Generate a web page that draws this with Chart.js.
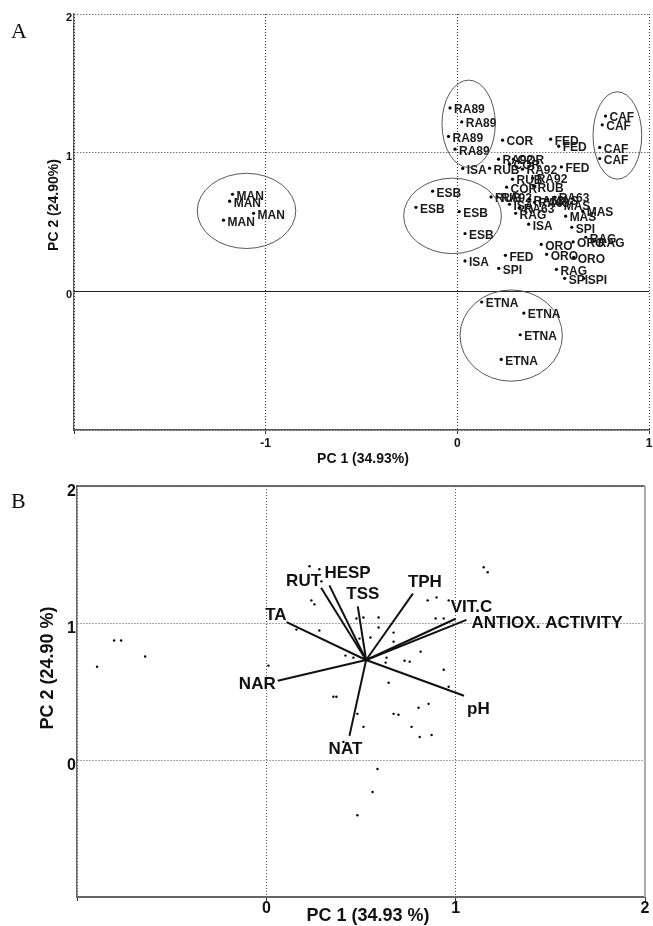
<!DOCTYPE html>
<html>
<head>
<meta charset="utf-8">
<script src="https://cdn.jsdelivr.net/npm/chart.js@4.4.0/dist/chart.umd.min.js"></script>
<style>
  body { margin: 0; background: #fff; width: 653px; height: 926px; position: relative; overflow: hidden; }
  .panel { position: absolute; left: 0; width: 653px; }
  #boxA { top: 0; height: 470px; }
  #boxB { top: 470px; height: 456px; }
</style>
</head>
<body>
<div class="panel" id="boxA"><canvas id="chartA"></canvas></div>
<div class="panel" id="boxB"><canvas id="chartB"></canvas></div>
<script>
// ---- panel A: sample scores ----
var sampleNames = ['MAN','MAN','MAN','MAN','RA89','RA89','RA89','RA89','CAF','CAF','CAF','CAF',
  'ESB','ESB','ESB','ESB','ETNA','ETNA','ETNA','ETNA','FED','FED','FED','FED',
  'ISA','ISA','ISA','ISA','COR','COR','COR','COR','RA92','RA92','RA92','RA92',
  'RUB','RUB','RUB','RUB','RA63','RA63','RA63','RA63','MAS','MAS','MAS','MAS',
  'RAG','RAG','RAG','RAG','ORO','ORO','ORO','ORO','SPI','SPI','SPI','SPI'];
var pc1A = [-1.173,-1.188,-1.063,-1.220, -0.038,0.023,-0.046,-0.012, 0.773,0.756,0.743,0.743,
  -0.129,-0.216,0.010,0.040, 0.127,0.347,0.328,0.229, 0.487,0.529,0.543,0.251,
  0.028,0.040,0.372,0.272, 0.236,0.293,0.257,0.272, 0.215,0.340,0.393,0.208,
  0.168,0.288,0.398,0.176, 0.508,0.325,0.403,0.377, 0.471,0.654,0.565,0.534,
  0.304,0.670,0.712,0.517, 0.438,0.604,0.466,0.607, 0.597,0.560,0.660,0.216];
var pc2A = [0.700,0.650,0.563,0.513, 1.323,1.222,1.117,1.025, 1.264,1.201,1.038,0.958,
  0.722,0.606,0.575,0.417, -0.077,-0.157,-0.313,-0.491, 1.097,1.047,0.897,0.260,
  0.886,0.219,0.484,0.628, 1.090,0.953,0.751,0.917, 0.953,0.881,0.816,0.681,
  0.888,0.809,0.758,0.681, 0.679,0.606,0.643,0.664, 0.664,0.578,0.542,0.628,
  0.563,0.390,0.361,0.159, 0.339,0.356,0.267,0.245, 0.462,0.094,0.094,0.166];

// group ellipses (MAN, RA89, ESB, CAF, ETNA) in PC units
var ellipseCx = [-1.100, 0.059, -0.025, 0.835, 0.281];
var ellipseCy = [0.580, 1.208, 0.544, 1.124, -0.319];
var ellipseRx = [0.257, 0.139, 0.255, 0.127, 0.267];
var ellipseRy = [0.271, 0.315, 0.272, 0.315, 0.329];

// ---- panel B: biplot ----
var pc1B = [-0.894,-0.804,-0.767,-0.640,0.011,0.228,0.280,0.291,0.238,0.254,0.159,0.280,0.354,0.370,
  0.418,0.460,0.476,0.513,0.593,0.593,0.550,0.492,0.672,0.672,0.635,0.630,0.730,0.757,0.815,0.852,
  0.899,0.963,0.894,0.937,0.937,0.646,0.963,0.804,0.857,0.481,0.672,0.698,0.513,0.767,0.810,0.873,
  0.407,0.587,0.561,0.481,1.148,1.169];
var pc2B = [0.681,0.872,0.872,0.755,0.689,1.414,1.392,1.304,1.165,1.136,0.952,0.945,0.462,0.462,
  0.762,0.747,1.033,1.040,1.040,0.967,0.894,0.886,0.930,0.864,0.747,0.711,0.725,0.718,0.791,1.165,
  1.187,1.165,1.033,1.033,0.659,0.564,0.535,0.381,0.410,0.337,0.337,0.330,0.242,0.242,0.168,0.183,
  0.132,-0.066,-0.234,-0.403,1.407,1.370];

var variables = ['TA','NAR','RUT','HESP','TSS','TPH','VIT.C','ANTIOX. ACTIVITY','pH','NAT'];
var loadX = [0.107, 0.060, 0.289, 0.333, 0.483, 0.774, 1.000, 1.057, 1.044, 0.439];
var loadY = [1.006, 0.579, 1.258, 1.275, 1.121, 1.214, 1.031, 1.023, 0.469, 0.176];
var vecOrigin = [0.527, 0.730];

// where each variable name sits relative to its arrow tip
var labelSide = ['above-left','left','above-left','above-right','above','above-right','above-right','right','below-right','below'];

var SANS = '"Liberation Sans", Arial, sans-serif';
var SERIF = '"Liberation Serif", "Times New Roman", serif';

function fitBox(w, h) {
    return function(s) {
        if (w !== null) s.width = w;
        if (h !== null) s.height = h;
        s.paddingLeft = 0; s.paddingRight = 0; s.paddingTop = 0; s.paddingBottom = 0;
    };
}

function drawTitles(chart, cfg) {
    var ctx = chart.ctx;
    ctx.save();
    ctx.fillStyle = '#111';
    ctx.textAlign = 'center';
    ctx.textBaseline = 'middle';
    ctx.font = 'bold ' + cfg.size + 'px ' + SANS;
    ctx.fillText(cfg.xTitle, cfg.xPos[0], cfg.xPos[1]);
    ctx.translate(cfg.yPos[0], cfg.yPos[1]);
    ctx.rotate(-Math.PI / 2);
    ctx.fillText(cfg.yTitle, 0, 0);
    ctx.restore();
    ctx.save();
    ctx.fillStyle = '#111';
    ctx.font = '22px ' + SERIF;
    ctx.textAlign = 'left';
    ctx.textBaseline = 'alphabetic';
    ctx.fillText(cfg.letter, 11, 38);
    ctx.restore();
}

var panelAPlugin = {
    id: 'panelA',
    beforeDatasetsDraw: function(chart) {
        var ctx = chart.ctx, area = chart.chartArea, y = chart.scales.y;
        var y0 = Math.round(y.getPixelForValue(0)) + 0.5;
        ctx.save();
        ctx.strokeStyle = '#222';
        ctx.lineWidth = 1.2;
        ctx.beginPath();
        ctx.moveTo(area.left, y0);
        ctx.lineTo(area.right, y0);
        ctx.stroke();
        ctx.restore();
    },
    afterDatasetsDraw: function(chart) {
        var ctx = chart.ctx, x = chart.scales.x, y = chart.scales.y;
        var meta = chart.getDatasetMeta(0);
        ctx.save();
        ctx.font = 'bold 12px ' + SANS;
        ctx.fillStyle = '#1a1a1a';
        ctx.textAlign = 'left';
        ctx.textBaseline = 'middle';
        meta.data.forEach(function(pt, i) {
            ctx.fillText(sampleNames[i], pt.x + 4, pt.y + 2);
        });
        ctx.strokeStyle = '#444';
        ctx.lineWidth = 0.9;
        ellipseCx.forEach(function(cx, i) {
            var px = x.getPixelForValue(cx), py = y.getPixelForValue(ellipseCy[i]);
            var rx = Math.abs(x.getPixelForValue(cx + ellipseRx[i]) - px);
            var ry = Math.abs(y.getPixelForValue(ellipseCy[i] + ellipseRy[i]) - py);
            ctx.beginPath();
            ctx.ellipse(px, py, rx, ry, 0, 0, Math.PI * 2);
            ctx.stroke();
        });
        ctx.restore();
    },
    afterDraw: function(chart) {
        drawTitles(chart, { xTitle: 'PC 1 (34.93%)', yTitle: 'PC 2 (24.90%)', size: 14,
            xPos: [363, 459], yPos: [54, 205], letter: 'A' });
    }
};

var panelBPlugin = {
    id: 'panelB',
    beforeDatasetsDraw: function(chart) {
        var ctx = chart.ctx, area = chart.chartArea;
        ctx.save();
        ctx.lineWidth = 1.5;
        ctx.strokeStyle = '#444';
        ctx.beginPath();
        ctx.moveTo(area.left, area.top);
        ctx.lineTo(area.right, area.top);
        ctx.stroke();
        ctx.strokeStyle = '#aaa';
        ctx.lineWidth = 2;
        ctx.beginPath();
        ctx.moveTo(area.right, area.top);
        ctx.lineTo(area.right, area.bottom);
        ctx.stroke();
        ctx.restore();
    },
    afterDatasetsDraw: function(chart) {
        var ctx = chart.ctx, x = chart.scales.x, y = chart.scales.y;
        ctx.save();
        ctx.font = 'bold 17px ' + SANS;
        ctx.fillStyle = '#111';
        variables.forEach(function(name, i) {
            var ex = x.getPixelForValue(loadX[i]), ey = y.getPixelForValue(loadY[i]);
            var side = labelSide[i];
            if (side === 'above-left') { ctx.textAlign = 'right'; ctx.textBaseline = 'alphabetic'; ctx.fillText(name, ex, ey - 2); }
            else if (side === 'above') { ctx.textAlign = 'center'; ctx.textBaseline = 'alphabetic'; ctx.fillText(name, ex + 5, ey - 7); }
            else if (side === 'above-right') { ctx.textAlign = 'left'; ctx.textBaseline = 'alphabetic'; ctx.fillText(name, ex - 5, ey - 7); }
            else if (side === 'left') { ctx.textAlign = 'right'; ctx.textBaseline = 'middle'; ctx.fillText(name, ex - 2, ey + 4); }
            else if (side === 'right') { ctx.textAlign = 'left'; ctx.textBaseline = 'middle'; ctx.fillText(name, ex + 5, ey + 3); }
            else if (side === 'below-right') { ctx.textAlign = 'left'; ctx.textBaseline = 'top'; ctx.fillText(name, ex + 3, ey + 5); }
            else { ctx.textAlign = 'center'; ctx.textBaseline = 'top'; ctx.fillText(name, ex - 4, ey + 5); }
        });
        ctx.restore();
    },
    afterDraw: function(chart) {
        drawTitles(chart, { xTitle: 'PC 1 (34.93 %)', yTitle: 'PC 2 (24.90 %)', size: 18,
            xPos: [368, 446], yPos: [48, 198], letter: 'B' });
    }
};

// ---------- chart A ----------
var ctxA = document.getElementById('chartA').getContext('2d');
var chartA = new Chart(ctxA, {
    type: 'scatter',
    data: {
        datasets: [{
            data: pc1A.map(function(v, i) { return { x: v, y: pc2A[i] }; }),
            pointRadius: 1.6,
            pointBackgroundColor: '#000',
            pointBorderWidth: 0
        }]
    },
    options: {
        responsive: true,
        maintainAspectRatio: false,
        animation: false,
        layout: { padding: { top: 14, right: 2, left: 0, bottom: 0 } },
        plugins: { legend: { display: false }, tooltip: { enabled: false } },
        scales: {
            x: {
                type: 'linear', min: -2, max: 1,
                afterFit: fitBox(null, 40),
                ticks: {
                    stepSize: 1, padding: 2, color: '#111',
                    font: { family: SANS, size: 12, weight: 'bold' },
                    callback: function(v) { return v === -2 ? '' : v; }
                },
                grid: { color: '#333', lineWidth: 1, tickLength: 4, tickColor: '#333' },
                border: { display: true, color: '#555', width: 1.5, dash: [1, 2] }
            },
            y: {
                type: 'linear', min: -1, max: 2,
                afterFit: fitBox(74, null),
                ticks: {
                    stepSize: 1, padding: 2, labelOffset: 4, color: '#111',
                    font: { family: SANS, size: 11, weight: 'bold' },
                    callback: function(v) { return v === -1 ? '' : v; }
                },
                grid: { color: '#333', lineWidth: 1, drawTicks: false },
                border: { display: true, color: '#555', width: 1.3, dash: [1, 2] }
            }
        }
    },
    plugins: [panelAPlugin]
});

// ---------- chart B ----------
var datasetsB = [{
    data: pc1B.map(function(v, i) { return { x: v, y: pc2B[i] }; }),
    pointRadius: 1.2,
    pointBackgroundColor: '#000',
    pointBorderWidth: 0
}];
variables.forEach(function(name, i) {
    datasetsB.push({
        label: name,
        data: [{ x: vecOrigin[0], y: vecOrigin[1] }, { x: loadX[i], y: loadY[i] }],
        showLine: true,
        borderColor: '#111',
        borderWidth: 2,
        pointRadius: 0
    });
});

var ctxB = document.getElementById('chartB').getContext('2d');
var chartB = new Chart(ctxB, {
    type: 'scatter',
    data: { datasets: datasetsB },
    options: {
        responsive: true,
        maintainAspectRatio: false,
        animation: false,
        layout: { padding: { top: 16, right: 8, left: 0, bottom: 0 } },
        plugins: { legend: { display: false }, tooltip: { enabled: false } },
        scales: {
            x: {
                type: 'linear', min: -1, max: 2,
                afterFit: fitBox(null, 29),
                ticks: {
                    stepSize: 1, padding: -2, color: '#111',
                    font: { family: SANS, size: 16, weight: 'bold' },
                    callback: function(v) { return v === -1 ? '' : v; }
                },
                grid: { color: '#555', lineWidth: 1, tickLength: 4, tickColor: '#333' },
                border: { display: true, color: '#666', width: 2, dash: [1, 2] }
            },
            y: {
                type: 'linear', min: -1, max: 2,
                afterFit: fitBox(77, null),
                ticks: {
                    stepSize: 1, padding: 1, labelOffset: 6, color: '#111',
                    font: { family: SANS, size: 16, weight: 'bold' },
                    callback: function(v) { return v === -1 ? '' : v; }
                },
                grid: { color: '#555', lineWidth: 1, drawTicks: false },
                border: { display: true, color: '#666', width: 1.5, dash: [1, 2] }
            }
        }
    },
    plugins: [panelBPlugin]
});
</script>
</body>
</html>
